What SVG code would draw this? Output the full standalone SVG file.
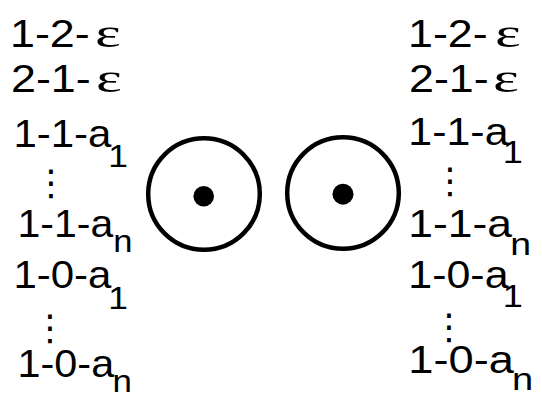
<svg xmlns="http://www.w3.org/2000/svg" width="542" height="399" viewBox="0 0 542 399">
<style>
.lbl{font-family:"Liberation Sans",Arial,sans-serif;font-size:38px;fill:#000}
.sub{font-size:32px}
.eps{font-family:"Liberation Serif","Times New Roman",serif;font-size:41px;fill:#000}
.vd{font-family:"DejaVu Sans",sans-serif;font-size:36px;fill:#000;text-anchor:middle}
.ring{fill:none;stroke:#000;stroke-width:4.5}
</style>
<rect width="542" height="399" fill="#fff"/>
<g id="connectors"/>
<g id="left-labels">
<g id="l1"><g transform="translate(10,47) scale(1.18,1)"><text class="lbl">1-2-</text></g><g transform="translate(95,47) scale(1.5,1)"><text class="eps">ε</text></g></g>
<g id="l2"><g transform="translate(11,92) scale(1.18,1)"><text class="lbl">2-1-</text></g><g transform="translate(96,92) scale(1.5,1)"><text class="eps">ε</text></g></g>
<g transform="translate(13.4,147) scale(1.106,1)"><text class="lbl">1-1-a<tspan class="sub" dy="20" dx="-3">1</tspan></text></g>
<text class="vd" x="51" y="195">⋮</text>
<g transform="translate(17.5,237) scale(1.08,1)"><text class="lbl">1-1-a<tspan class="sub" dy="15" dx="0">n</tspan></text></g>
<g transform="translate(13.4,288) scale(1.106,1)"><text class="lbl">1-0-a<tspan class="sub" dy="21" dx="-3">1</tspan></text></g>
<text class="vd" x="50" y="340">⋮</text>
<g transform="translate(17.5,377) scale(1.09,1)"><text class="lbl">1-0-a<tspan class="sub" dy="15" dx="-1.5">n</tspan></text></g>
</g>
<g id="right-labels">
<g id="r1"><g transform="translate(408,47) scale(1.18,1)"><text class="lbl">1-2-</text></g><g transform="translate(495,47) scale(1.5,1)"><text class="eps">ε</text></g></g>
<g id="r2"><g transform="translate(409,92) scale(1.18,1)"><text class="lbl">2-1-</text></g><g transform="translate(493,92) scale(1.5,1)"><text class="eps">ε</text></g></g>
<g transform="translate(408.3,145) scale(1.13,1)"><text class="lbl">1-1-a<tspan class="sub" dy="18" dx="-5">1</tspan></text></g>
<text class="vd" x="450" y="193">⋮</text>
<g transform="translate(408.3,237) scale(1.17,1)"><text class="lbl">1-1-a<tspan class="sub" dy="18" dx="-1.5">n</tspan></text></g>
<g transform="translate(408.3,288) scale(1.13,1)"><text class="lbl">1-0-a<tspan class="sub" dy="19" dx="-5">1</tspan></text></g>
<text class="vd" x="449" y="339">⋮</text>
<g transform="translate(408.3,373) scale(1.19,1)"><text class="lbl">1-0-a<tspan class="sub" dy="17" dx="-1.5">n</tspan></text></g>
</g>
<g id="circle1">
<circle class="ring" cx="204" cy="194" r="55.8"/>
<circle cx="203.7" cy="196.3" r="10.3" fill="#000"/>
</g>
<g id="circle2">
<circle class="ring" cx="343" cy="193" r="55.8"/>
<circle cx="343" cy="194.2" r="10.5" fill="#000"/>
</g>
</svg>
